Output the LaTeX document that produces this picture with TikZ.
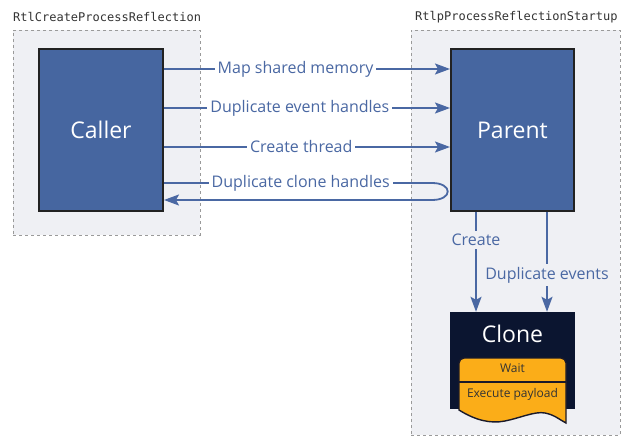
\documentclass[tikz,border=0pt]{standalone}
\usepackage{fontspec}
\setmainfont{Open Sans}
\newfontfamily\monofont{DejaVu Sans Mono}
\usetikzlibrary{arrows.meta,positioning,calc}
\definecolor{groupfill}{HTML}{EFF0F4}
\definecolor{groupline}{HTML}{9A9A9A}
\definecolor{procfill}{HTML}{4666A0}
\definecolor{procline}{HTML}{222222}
\definecolor{flowcol}{HTML}{4A68A3}
\definecolor{clonefill}{HTML}{0B1530}
\definecolor{taskfill}{HTML}{FBAD18}
\definecolor{taskline}{HTML}{1A1A2A}
\definecolor{monotext}{HTML}{333333}
\tikzset{
  groupbox/.style={draw=groupline, fill=groupfill, dashed, dash pattern=on 3pt off 3pt, line width=0.9pt, inner sep=0pt},
  grouplabel/.style={font=\monofont\fontsize{12}{14}\selectfont, text=monotext, anchor=west, inner sep=0pt},
  procbox/.style={draw=procline, fill=procfill, line width=2pt, text=white, font=\fontsize{23}{26}\selectfont, inner sep=0pt},
  flow/.style={draw=flowcol, line width=1.8pt, -{Stealth[length=15pt,width=11pt,inset=3pt]}},
  flowlabel/.style={font=\fontsize{16}{18}\selectfont, text=flowcol, inner sep=3pt},
  tasktext/.style={font=\fontsize{12}{14}\selectfont, text=monotext, inner sep=0pt},
}
\begin{document}
\begin{tikzpicture}[x=1pt,y=-1pt]
\useasboundingbox (0,0) rectangle (634,446);
\fill[white] (0,0) rectangle (634,446);
% groups
\node[groupbox, minimum width=187pt, minimum height=205pt] (gleft) at (106.5,132.5) {};
\node[groupbox, minimum width=209pt, minimum height=405pt] (gright) at (515.5,232.5) {};
\node[grouplabel] (lleft) at (13,17) {RtlCreateProcessReflection};
\node[grouplabel] (lright) at (415,17) {RtlpProcessReflectionStartup};
% process boxes
\node[procbox, minimum width=124pt, minimum height=162pt] (caller) at (101,130) {Caller};
\node[procbox, minimum width=123pt, minimum height=162pt] (parent) at (512.5,130) {Parent};
% clone
\node[fill=clonefill, minimum width=125pt, minimum height=97pt, inner sep=0pt] (clone) at (512.5,360.5) {};
\node[text=white, font=\fontsize{23}{26}\selectfont, inner sep=0pt] (clonetitle) at (512.5,334) {Clone};
\draw[fill=taskfill, draw=taskline, line width=1.4pt]
  (459,410) -- (459,363) arc[start angle=180, end angle=270, radius=5] -- (561,358)
  arc[start angle=270, end angle=360, radius=5] -- (566,423)
  .. controls (560,420) and (555,415) .. (545,413)
  .. controls (535,411) and (520,418) .. (505,421)
  .. controls (490,424) and (475,420) .. (459,410) -- cycle;
\draw[draw=taskline, line width=1.4pt] (459,382) -- (566,382);
\node[tasktext] (wait) at (512.5,368) {Wait};
\node[tasktext] (exec) at (512.5,394) {Execute payload};
% horizontal flows
\draw[flow] ([yshift=61pt]caller.east) -- node[flowlabel, pos=0.46, fill=white] {Map shared memory} ([yshift=61pt]parent.west);
\draw[flow] ([yshift=22pt]caller.east) -- node[flowlabel, pos=0.475, fill=white] {Duplicate event handles} ([yshift=22pt]parent.west);
\draw[flow] ([yshift=-17pt]caller.east) -- node[flowlabel, pos=0.48, fill=white] {Create thread} ([yshift=-17pt]parent.west);
\draw[flow] ([yshift=-53pt]caller.east) -- node[flowlabel, pos=0.51, fill=white] {Duplicate clone handles}
  ([xshift=-18pt,yshift=-53pt]parent.west) .. controls +(21,0) and +(21,0) .. ([xshift=-18pt,yshift=-70pt]parent.west)
  -- ([yshift=-70pt]caller.east);
% vertical flows
\draw[flow] ([xshift=-36.5pt]parent.south) -- node[flowlabel, pos=0.28, fill=groupfill] {Create} ([xshift=-36.5pt]clone.north);
\draw[flow] ([xshift=34.5pt]parent.south) -- node[flowlabel, pos=0.63, fill=groupfill] {Duplicate events} ([xshift=34.5pt]clone.north);
\end{tikzpicture}
\end{document}
